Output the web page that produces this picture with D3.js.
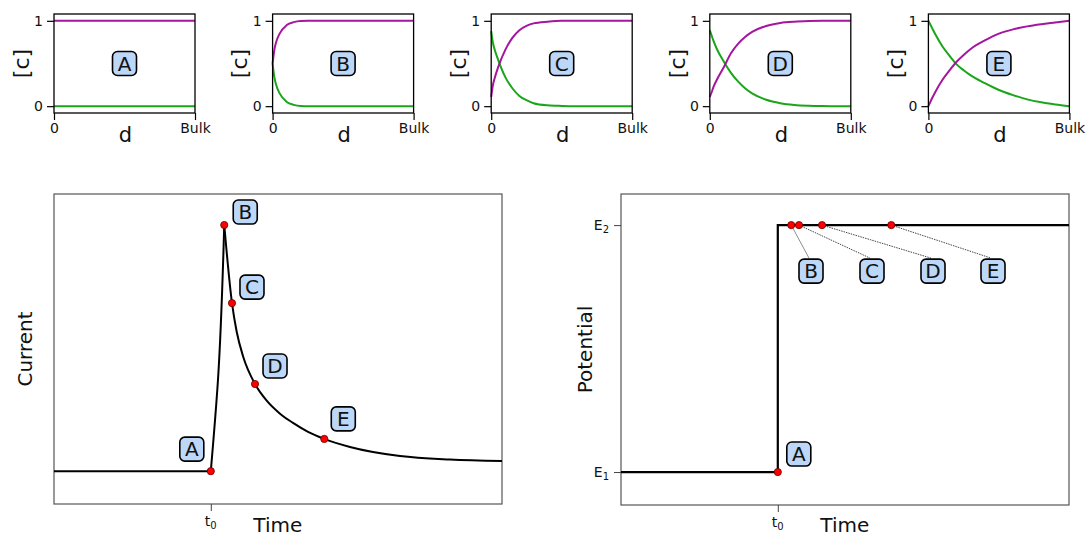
<!DOCTYPE html>
<html>
<head>
<meta charset="utf-8">
<script src="https://cdn.jsdelivr.net/npm/d3@7"></script>
<style>
body { margin: 0; background: #fff; }
text { font-family: "DejaVu Sans", Verdana, sans-serif; fill: #111; }
</style>
</head>
<body>
<svg width="1086" height="537"></svg>
<script>
// concentration profiles, distance as fraction of the way to bulk
const profileD = [0, 0.0125, 0.025, 0.05, 0.1, 0.15, 0.2, 0.25, 0.3, 0.4, 0.5, 0.6, 0.7, 0.8, 0.9, 1];
const panelNames = ['A', 'B', 'C', 'D', 'E'];
const purpleA = [1, 1, 1, 1, 1, 1, 1, 1, 1, 1, 1, 1, 1, 1, 1, 1];
const greenA  = [0, 0, 0, 0, 0, 0, 0, 0, 0, 0, 0, 0, 0, 0, 0, 0];
const purpleB = [0.5, 0.66, 0.75, 0.85, 0.95, 0.985, 0.998, 1, 1, 1, 1, 1, 1, 1, 1, 1];
const greenB  = [0.5, 0.34, 0.25, 0.15, 0.05, 0.015, 0.002, 0, 0, 0, 0, 0, 0, 0, 0, 0];
const purpleC = [0.11, 0.25, 0.33, 0.46, 0.66, 0.80, 0.89, 0.94, 0.97, 0.99, 1, 1, 1, 1, 1, 1];
const greenC  = [0.88, 0.74, 0.66, 0.54, 0.34, 0.21, 0.12, 0.07, 0.035, 0.01, 0.003, 0, 0, 0, 0, 0];
const purpleD = [0.11, 0.16, 0.22, 0.31, 0.46, 0.62, 0.73, 0.81, 0.87, 0.94, 0.975, 0.99, 0.997, 1, 1, 1];
const greenD  = [0.89, 0.83, 0.77, 0.67, 0.52, 0.39, 0.29, 0.21, 0.15, 0.075, 0.035, 0.015, 0.006, 0.002, 0, 0];
const purpleE = [0, 0.045, 0.09, 0.17, 0.31, 0.42, 0.52, 0.60, 0.67, 0.77, 0.85, 0.90, 0.935, 0.96, 0.98, 1];
const greenE  = [1, 0.96, 0.92, 0.84, 0.70, 0.59, 0.49, 0.42, 0.36, 0.27, 0.19, 0.13, 0.08, 0.045, 0.02, 0];
const purples = [purpleA, purpleB, purpleC, purpleD, purpleE];
const greens  = [greenA, greenB, greenC, greenD, greenE];

// current transient (time and current in arbitrary units)
const t0 = 35;
const baseTime = [0, 35];
const baseCurrent = [10.6, 10.6];
const riseTime = [35, 36.6, 38];
const riseCurrent = [10.6, 40, 90];
const decayTime = [38, 39.73, 40.78, 42.25, 44.87, 47.48, 50.45, 53.35, 56.7, 60.33, 66.07, 77.23, 88.39, 100];
const decayCurrent = [90, 64.8, 55.55, 47.42, 38.71, 33.32, 29.13, 26.16, 23.29, 21.0, 18.39, 15.48, 14.35, 13.87];

// marked moments
const markNames = ['A', 'B', 'C', 'D', 'E'];
const markTime = [35, 38, 39.73, 44.87, 60.33];
const markCurrent = [10.6, 90, 64.8, 38.71, 21.0];

// potential step
const E1 = 10.6, E2 = 90;
const stepTime = [0, 35, 35, 100];
const stepPotential = [E1, E1, E2, E2];

const svg = d3.select('svg');
const purple = '#a5169f', green = '#1aa51a';
const boxFill = '#bcd7f7';

function labelBox(g, x, y, txt) {
  const b = g.append('g').attr('transform', `translate(${x},${y})`);
  b.append('rect').attr('x', -12).attr('y', -12).attr('width', 24).attr('height', 24)
    .attr('rx', 5).attr('fill', boxFill).attr('stroke', '#000').attr('stroke-width', 1.6);
  b.append('text').attr('text-anchor', 'middle').attr('dy', '0.36em')
    .attr('font-size', 20).text(txt);
}

// ---- top row of concentration profiles
const topW = 141, topTop = 14, topBot = 113;
panelNames.forEach((name, i) => {
  const left = 54 + i * 218.6;
  const x = d3.scaleLinear().domain([0, 1]).range([left, left + topW]);
  const y = d3.scaleLinear().domain([-0.08, 1.08]).range([topBot, topTop]);
  const g = svg.append('g');

  const line = d3.line().x(d => x(d[0])).y(d => y(d[1])).curve(d3.curveMonotoneX);
  g.append('path').datum(d3.zip(profileD, greens[i]))
    .attr('d', line).attr('fill', 'none').attr('stroke', green).attr('stroke-width', 2);
  g.append('path').datum(d3.zip(profileD, purples[i]))
    .attr('d', line).attr('fill', 'none').attr('stroke', purple).attr('stroke-width', 2);

  g.append('rect').attr('x', left).attr('y', topTop).attr('width', topW).attr('height', topBot - topTop)
    .attr('fill', 'none').attr('stroke', '#000').attr('stroke-width', 1.3);

  const ya = g.append('g').attr('transform', `translate(${left},0)`)
    .call(d3.axisLeft(y).tickValues([0, 1]).tickFormat(d3.format('d')).tickSize(7).tickPadding(4));
  const xa = g.append('g').attr('transform', `translate(0,${topBot})`)
    .call(d3.axisBottom(x).tickValues([0, 1]).tickFormat(d => d === 0 ? '0' : 'Bulk').tickSize(7).tickPadding(3));
  [ya, xa].forEach(a => {
    a.select('.domain').remove();
    a.selectAll('line').attr('stroke', '#000').attr('stroke-width', 1.2);
    a.selectAll('text').attr('font-size', 14).attr('font-family', '"DejaVu Sans", sans-serif').attr('fill', '#111');
  });

  g.append('text').attr('transform', `translate(${left - 33},${y(0.5)}) rotate(-90)`)
    .attr('text-anchor', 'middle').attr('dy', '0.35em').attr('font-size', 22).text('[c]');
  g.append('text').attr('x', x(0.5) + 1).attr('y', 142)
    .attr('text-anchor', 'middle').attr('font-size', 21).text('d');

  labelBox(g, x(0.5), y(0.5), name);
});

// ---- bottom panels
function bottomFrame(left, right, top, bot, yLabel, yLabelGap) {
  const x = d3.scaleLinear().domain([0, 100]).range([left, right]);
  const y = d3.scaleLinear().domain([0, 100]).range([bot, top]);
  const g = svg.append('g');
  g.append('rect').attr('x', left).attr('y', top).attr('width', right - left).attr('height', bot - top)
    .attr('fill', 'none').attr('stroke', '#555').attr('stroke-width', 1.2);
  const xa = g.append('g').attr('transform', `translate(0,${bot})`)
    .call(d3.axisBottom(x).tickValues([t0]).tickFormat(() => '').tickSize(7));
  xa.select('.domain').remove();
  xa.selectAll('line').attr('stroke', '#444');
  const tl = g.append('text').attr('x', x(t0)).attr('y', bot + 22).attr('text-anchor', 'middle').attr('font-size', 14);
  tl.append('tspan').text('t');
  tl.append('tspan').attr('font-size', 10).attr('dy', 3).text('0');
  g.append('text').attr('x', x(t0) + 67).attr('y', 532).attr('text-anchor', 'middle')
    .attr('font-size', 20).text('Time');
  g.append('text').attr('transform', `translate(${left - yLabelGap},${(top + bot) / 2}) rotate(-90)`)
    .attr('text-anchor', 'middle').attr('font-size', 20).text(yLabel);
  return {x, y, g};
}

// current vs time
{
  const {x, y, g} = bottomFrame(54, 502, 194, 504, 'Current', 22);
  const line = d3.line().x(d => x(d[0])).y(d => y(d[1]));
  g.append('path').datum(d3.zip(baseTime, baseCurrent)).attr('d', line)
    .attr('fill', 'none').attr('stroke', '#000').attr('stroke-width', 2);
  g.append('path').datum(d3.zip(riseTime, riseCurrent)).attr('d', line.curve(d3.curveMonotoneY))
    .attr('fill', 'none').attr('stroke', '#000').attr('stroke-width', 2);
  g.append('path').datum(d3.zip(decayTime, decayCurrent)).attr('d', line.curve(d3.curveMonotoneX))
    .attr('fill', 'none').attr('stroke', '#000').attr('stroke-width', 2);

  const marks = d3.zip(markNames, markTime, markCurrent);
  g.selectAll('circle').data(marks).join('circle')
    .attr('cx', d => x(d[1])).attr('cy', d => y(d[2])).attr('r', 3.6)
    .attr('fill', '#f00').attr('stroke', '#600').attr('stroke-width', 0.8);
  // label offsets from their marker, in pixels
  const off = {A: [-19, -22], B: [21, -13], C: [20, -16], D: [20, -18], E: [19, -20]};
  marks.forEach(d => labelBox(g, x(d[1]) + off[d[0]][0], y(d[2]) + off[d[0]][1], d[0]));
}

// potential vs time
{
  const {x, y, g} = bottomFrame(621, 1069, 194, 505, 'Potential', 29);
  const ya = g.append('g').attr('transform', 'translate(621,0)')
    .call(d3.axisLeft(y).tickValues([E1, E2]).tickFormat(() => '').tickSize(7));
  ya.select('.domain').remove();
  ya.selectAll('line').attr('stroke', '#444');
  [[E1, '1'], [E2, '2']].forEach(([v, s]) => {
    const t = g.append('text').attr('x', 609).attr('y', y(v) + 5).attr('text-anchor', 'end').attr('font-size', 14);
    t.append('tspan').text('E');
    t.append('tspan').attr('font-size', 10).attr('dy', 3).text(s);
  });

  const line = d3.line().x(d => x(d[0])).y(d => y(d[1]));
  g.append('path').datum(d3.zip(stepTime, stepPotential)).attr('d', line)
    .attr('fill', 'none').attr('stroke', '#000').attr('stroke-width', 2.2);

  const marks = d3.zip(markNames, markTime, markTime.map((t, i) => i === 0 ? E1 : E2));
  // leader lines from marks B-E to boxes spaced below the step
  const boxX = {B: 811, C: 872, D: 933, E: 993};
  marks.slice(1).forEach(d => {
    g.append('line').attr('x1', x(d[1])).attr('y1', y(d[2]))
      .attr('x2', boxX[d[0]] - 2).attr('y2', y(d[2]) + 33)
      .attr('stroke', '#333').attr('stroke-width', 1).attr('stroke-dasharray', d[0] === 'B' ? null : '1.5,1')
      .attr('opacity', d[0] === 'B' ? 0.55 : 0.9);
  });
  g.selectAll('circle').data(marks).join('circle')
    .attr('cx', d => x(d[1])).attr('cy', d => y(d[2])).attr('r', 3.6)
    .attr('fill', '#f00').attr('stroke', '#600').attr('stroke-width', 0.8);
  labelBox(g, x(markTime[0]) + 21, y(E1) - 18, 'A');
  marks.slice(1).forEach(d => labelBox(g, boxX[d[0]], y(d[2]) + 46, d[0]));
}
</script>
</body>
</html>
